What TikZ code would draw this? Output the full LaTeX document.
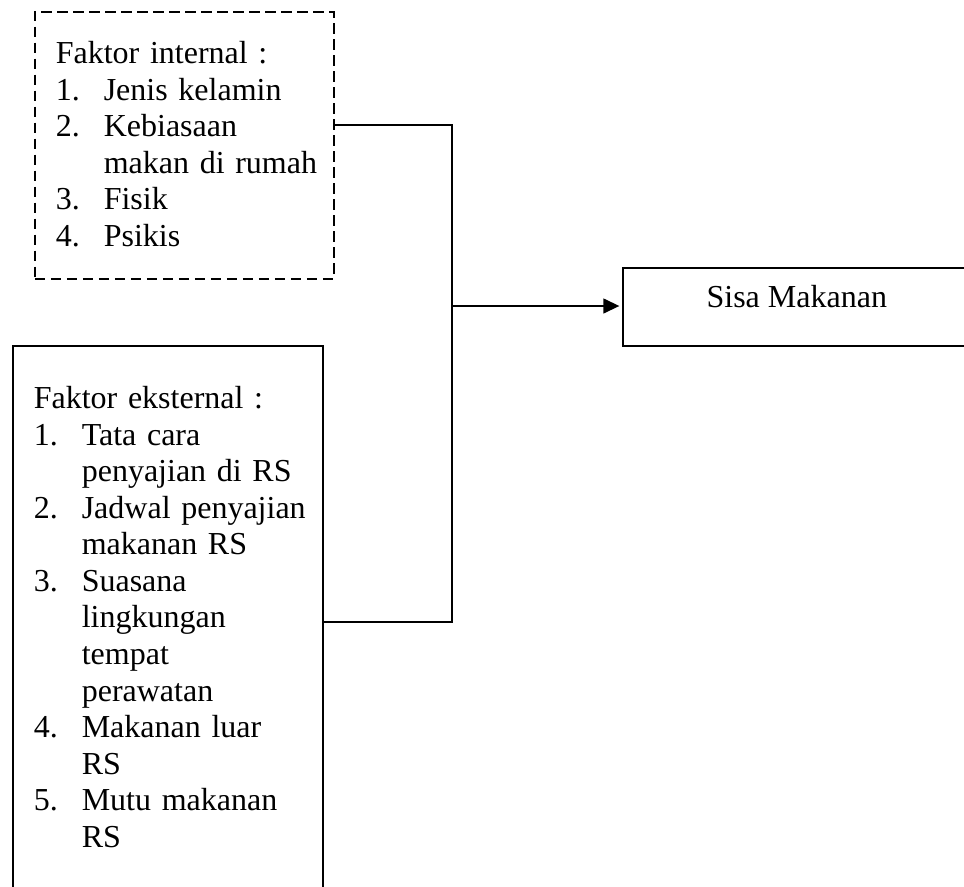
\documentclass[tikz,border=0pt]{standalone}
\usepackage{fontspec}
\setmainfont{Liberation Serif}
\usetikzlibrary{arrows.meta}
\newcommand{\numlbl}[2]{\makebox[18pt][l]{#1}\mbox{#2}}
\newcommand{\contln}[1]{\hspace*{18pt}\mbox{#1}}
\tikzset{
  factorbox/.style={draw,line width=0.6pt,anchor=north west,inner ysep=0pt,inner xsep=7.875pt,align=left,font=\fontsize{12}{13.7}\selectfont},
  intbox/.style={factorbox,dash pattern=on 4pt off 2pt,text width=96.4pt,text height=19.5pt,text depth=80.6pt},
  extbox/.style={factorbox,text width=100.5pt,text height=23.6pt,text depth=220pt},
  outbox/.style={draw,line width=0.6pt,anchor=north west,inner sep=0pt,minimum width=130.5pt,text height=15pt,text depth=14.25pt,font=\fontsize{12}{13.7}\selectfont},
  link/.style={line width=0.6pt},
  arr/.style={link,-{Triangle[length=6pt,width=5.6pt]},shorten >=1pt}
}

\begin{document}
\begin{tikzpicture}[x=0.375pt,y=-0.375pt]
\useasboundingbox (0,0) rectangle (964,886);
\node[intbox] (int) at (34,11) {Faktor internal :\\
\numlbl{1.}{Jenis kelamin}\\
\numlbl{2.}{Kebiasaan}\\
\contln{makan di rumah}\\
\numlbl{3.}{Fisik}\\
\numlbl{4.}{Psikis}};
\node[extbox] (ext) at (12,345) {Faktor eksternal :\\
\numlbl{1.}{Tata cara}\\
\contln{penyajian di RS}\\
\numlbl{2.}{Jadwal penyajian}\\
\contln{makanan RS}\\
\numlbl{3.}{Suasana}\\
\contln{lingkungan}\\
\contln{tempat}\\
\contln{perawatan}\\
\numlbl{4.}{Makanan luar}\\
\contln{RS}\\
\numlbl{5.}{Mutu makanan}\\
\contln{RS}};
\node[outbox] (sisa) at (622,267) {Sisa Makanan};
\coordinate (jtop) at (452,125);
\coordinate (jmid) at (452,306);
\coordinate (jbot) at (452,622);
\draw[link] (int.east |- jtop) -- (jtop) -- (jbot) -- (ext.east |- jbot);
\draw[arr] (jmid) -- (sisa.west |- jmid);
\end{tikzpicture}
\end{document}
